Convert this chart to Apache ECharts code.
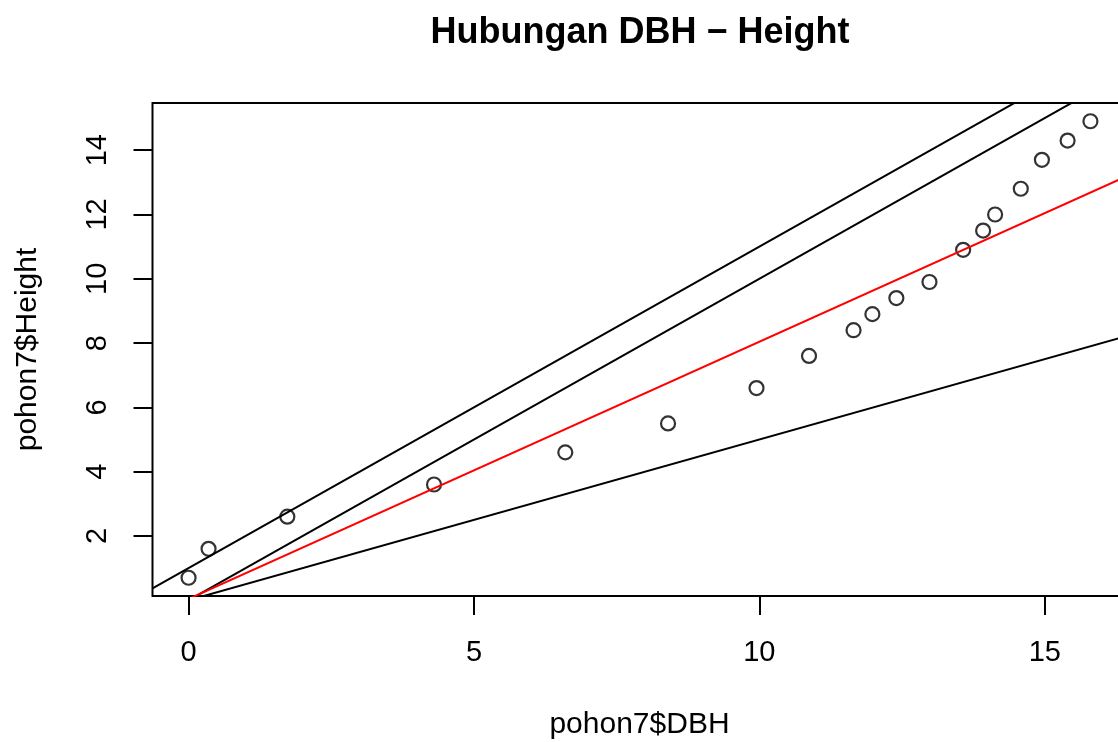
<!DOCTYPE html>
<html>
	<head>
		<meta charset="utf-8">
		<title>Hubungan DBH - Height</title>
		<script src="https://cdn.jsdelivr.net/npm/echarts@6/dist/echarts.min.js"></script>
		<style>
			html, body { margin: 0; padding: 0; background: #fff; }
		</style>
	</head>
	<body>
		<div id="main" style="width: 1118px;height:742px;"></div>

		<script type="text/javascript">
			// data
			var dbh    = [0, 0.35, 1.73, 4.3, 6.6, 8.4, 9.95, 10.87, 11.65, 11.98, 12.4, 12.98, 13.57, 13.92, 14.13, 14.58, 14.95, 15.4, 15.8];
			var height = [0.7, 1.6, 2.6, 3.6, 4.6, 5.5, 6.6, 7.6, 8.4, 8.9, 9.4, 9.9, 10.9, 11.5, 12.0, 12.8, 13.7, 14.3, 14.9];

			// abline(a, b) lines
			var lineIntercepts = [1, 0, 0, 0.04];
			var lineSlopes     = [1, 1, 0.5, 0.8];
			var lineColors     = ['#000', '#000', '#000', '#ff0000'];

			var xTicks = [0, 5, 10, 15];
			var yTicks = [2, 4, 6, 8, 10, 12, 14];

			// R style axis range: data range + 4% each side
			var xMin = -0.632, xMax = 16.432;
			var yMin = 0.132,  yMax = 15.468;

			var font = 'Liberation Sans, Arial, Helvetica, sans-serif';

			var points = dbh.map(function (d, i) { return [d, height[i]]; });

			var series = [{
				type: 'scatter',
				data: points,
				symbol: 'circle',
				symbolSize: 14,
				itemStyle: { color: 'rgba(0,0,0,0)', borderColor: '#000', borderWidth: 2.2 },
				silent: true,
				z: 2
			}];

			lineSlopes.forEach(function (b, i) {
				var a = lineIntercepts[i];
				series.push({
					type: 'line',
					data: [[xMin, a + b * xMin], [xMax, a + b * xMax]],
					showSymbol: false,
					clip: true,
					silent: true,
					lineStyle: { color: lineColors[i], width: 2 },
					z: 3
				});
			});

			var myChart = echarts.init(document.getElementById('main'));
			var option = {
				animation: false,
				title: {
					text: 'Hubungan DBH \u2212 Height',
					left: 635,
					textAlign: 'center',
					top: 10,
					textStyle: { fontFamily: font, fontSize: 36, fontWeight: 'bold', color: '#000' }
				},
				grid: {
					left: 152.5,
					top: 103,
					width: 974,
					height: 493,
					outerBoundsMode: 'none',
					containLabel: false,
					show: true,
					borderColor: '#000',
					borderWidth: 2,
					backgroundColor: 'transparent'
				},
				xAxis: {
					type: 'value',
					min: xMin,
					max: xMax,
					name: 'pohon7$DBH',
					nameLocation: 'middle',
					nameGap: 114,
					nameTextStyle: { fontFamily: font, fontSize: 30, color: '#000' },
					axisLine: { show: false, onZero: false },
					axisTick: { show: true, length: 19, customValues: xTicks, lineStyle: { color: '#000', width: 2 } },
					axisLabel: { customValues: xTicks, margin: 42, fontFamily: font, fontSize: 29, color: '#000' },
					splitLine: { show: false }
				},
				yAxis: {
					type: 'value',
					min: yMin,
					max: yMax,
					name: 'pohon7$Height',
					nameLocation: 'middle',
					nameGap: 110,
					nameTextStyle: { fontFamily: font, fontSize: 30, color: '#000' },
					axisLine: { show: false, onZero: false },
					axisTick: { show: true, length: 19, customValues: yTicks, lineStyle: { color: '#000', width: 2 } },
					axisLabel: { customValues: yTicks, rotate: 90, margin: 40, fontFamily: font, fontSize: 29, color: '#000' },
					splitLine: { show: false }
				},
				series: series
			};

			myChart.setOption(option);
		</script>
	</body>
</html>
